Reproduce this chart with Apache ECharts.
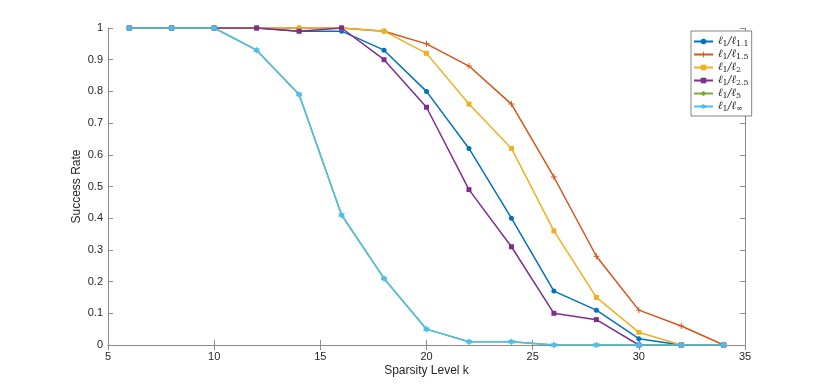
<!DOCTYPE html>
<html><head><meta charset="utf-8">
<script src="https://cdn.jsdelivr.net/npm/echarts@6/dist/echarts.min.js"></script>
<style>html,body{margin:0;padding:0;background:#fff}#c{width:830px;height:388px}</style>
</head><body><div id="c"></div>
<script>
const kValues = [6, 8, 10, 12, 14, 16, 18, 20, 22, 24, 26, 28, 30, 32, 34];
const s11 = [1, 1, 1, 1, 0.99, 0.99, 0.93, 0.80, 0.62, 0.40, 0.17, 0.11, 0.02, 0, 0];
const s15 = [1, 1, 1, 1, 1, 1, 0.99, 0.95, 0.88, 0.76, 0.53, 0.28, 0.11, 0.06, 0];
const s2  = [1, 1, 1, 1, 1, 1, 0.99, 0.92, 0.76, 0.62, 0.36, 0.15, 0.04, 0, 0];
const s25 = [1, 1, 1, 1, 0.99, 1, 0.90, 0.75, 0.49, 0.31, 0.10, 0.08, 0, 0, 0];
const s5  = [1, 1, 1, 0.93, 0.79, 0.41, 0.21, 0.05, 0.01, 0.01, 0, 0, 0, 0, 0];
const sInf = [1, 1, 1, 0.93, 0.79, 0.41, 0.21, 0.05, 0.01, 0.01, 0, 0, 0, 0, 0];
const seriesNames = ['l1/l1.1', 'l1/l1.5', 'l1/l2', 'l1/l2.5', 'l1/l5', 'l1/linf'];
const legendSubs = ['1.1', '1.5', '2', '2.5', '5', '∞'];
const xTicks = [5, 10, 15, 20, 25, 30, 35];
const yTicks = [0, 0.1, 0.2, 0.3, 0.4, 0.5, 0.6, 0.7, 0.8, 0.9, 1];

function hexagram() {
  let p = '';
  for (let i = 0; i < 12; i++) {
    const r = i % 2 === 0 ? 10 : 5.77;
    const a = Math.PI / 2 + i * Math.PI / 6;
    const x = (10 + r * Math.cos(a)).toFixed(2), y = (10 - r * Math.sin(a)).toFixed(2);
    p += (i === 0 ? 'M' : 'L') + x + ',' + y;
  }
  return 'path://' + p + 'Z';
}
const plusPath = 'path://M4.2,0H5.8V4.2H10V5.8H5.8V10H4.2V5.8H0V4.2H4.2Z';
const colors = ['#0072BD', '#D95319', '#EDB120', '#7E2F8E', '#77AC30', '#4DBEEE'];
const symbols = ['circle', plusPath, 'rect', 'rect', 'diamond', hexagram()];
const symSizes = [5, 6, 5, 5, 5, 7];
const allData = [s11, s15, s2, s25, s5, sInf];

const chart = echarts.init(document.getElementById('c'));
const axisColor = '#8c8c8c';
const txt = '#262626';
const font = 'Liberation Sans, Arial, Helvetica, sans-serif';

chart.setOption({
  animation: false,
  grid: { left: 108, right: 85, top: 28, bottom: 43, containLabel: false },
  legend: {
    orient: 'vertical', left: 691, top: 31,
    data: seriesNames,
    itemWidth: 19, itemHeight: 7, itemGap: 0,
    backgroundColor: '#fff', borderColor: '#333', borderWidth: 0.6,
    padding: [4, 3, 3, 2],
    formatter: function (name) {
      const i = seriesNames.indexOf(name);
      return '{b|ℓ}{s|1}{b|/ℓ}{s|' + legendSubs[i] + '}';
    },
    textStyle: {
      color: txt, fontFamily: 'DejaVu Serif, serif', lineHeight: 11.5,
      rich: {
        b: { fontSize: 11, fontStyle: 'italic', fontFamily: 'DejaVu Serif, serif', color: txt, lineHeight: 11.5 },
        s: { fontSize: 8, padding: [5, 0, 0, 0], fontFamily: 'DejaVu Serif, serif', color: txt, lineHeight: 11.5 }
      }
    }
  },
  xAxis: [{
    type: 'value', min: 5, max: 35, interval: 5,
    name: 'Sparsity Level k', nameLocation: 'middle', nameGap: 20, nameMoveOverlap: false,
    nameTextStyle: { fontSize: 12, color: txt, fontFamily: font },
    axisLine: { onZero: false, lineStyle: { color: axisColor, width: 1 } },
    axisTick: { inside: true, length: 5, lineStyle: { color: axisColor } },
    axisLabel: { fontSize: 11, color: txt, fontFamily: font, margin: 6,
      formatter: v => xTicks.includes(v) ? String(v) : '' },
    splitLine: { show: false }
  }, {
    type: 'value', min: 5, max: 35, interval: 5, position: 'top',
    axisLine: { lineStyle: { color: axisColor, width: 1 } },
    axisTick: { inside: true, length: 5, lineStyle: { color: axisColor } },
    axisLabel: { show: false }, splitLine: { show: false }
  }],
  yAxis: [{
    type: 'value', min: 0, max: 1, interval: 0.1,
    name: 'Success Rate', nameLocation: 'middle', nameGap: 25, nameRotate: 90, nameMoveOverlap: false,
    nameTextStyle: { fontSize: 12, color: txt, fontFamily: font },
    axisLine: { show: true, lineStyle: { color: axisColor, width: 1 } },
    axisTick: { show: true, inside: true, length: 5, lineStyle: { color: axisColor } },
    axisLabel: { fontSize: 11, color: txt, fontFamily: font, margin: 5,
      formatter: v => { const r = Math.round(v * 10) / 10; return yTicks.includes(r) ? String(r) : ''; } },
    splitLine: { show: false }
  }, {
    type: 'value', min: 0, max: 1, interval: 0.1, position: 'right',
    axisLine: { show: true, lineStyle: { color: axisColor, width: 1 } },
    axisTick: { show: true, inside: true, length: 5, lineStyle: { color: axisColor } },
    axisLabel: { show: false }, splitLine: { show: false }
  }],
  series: seriesNames.map((n, i) => ({
    name: n, type: 'line',
    data: kValues.map((k, j) => [k, allData[i][j]]),
    color: colors[i],
    lineStyle: { width: 1.5, color: colors[i] },
    symbol: symbols[i], symbolSize: symSizes[i], showAllSymbol: true,
    itemStyle: { color: colors[i] },
    z: 2 + i
  }))
});
</script></body></html>
